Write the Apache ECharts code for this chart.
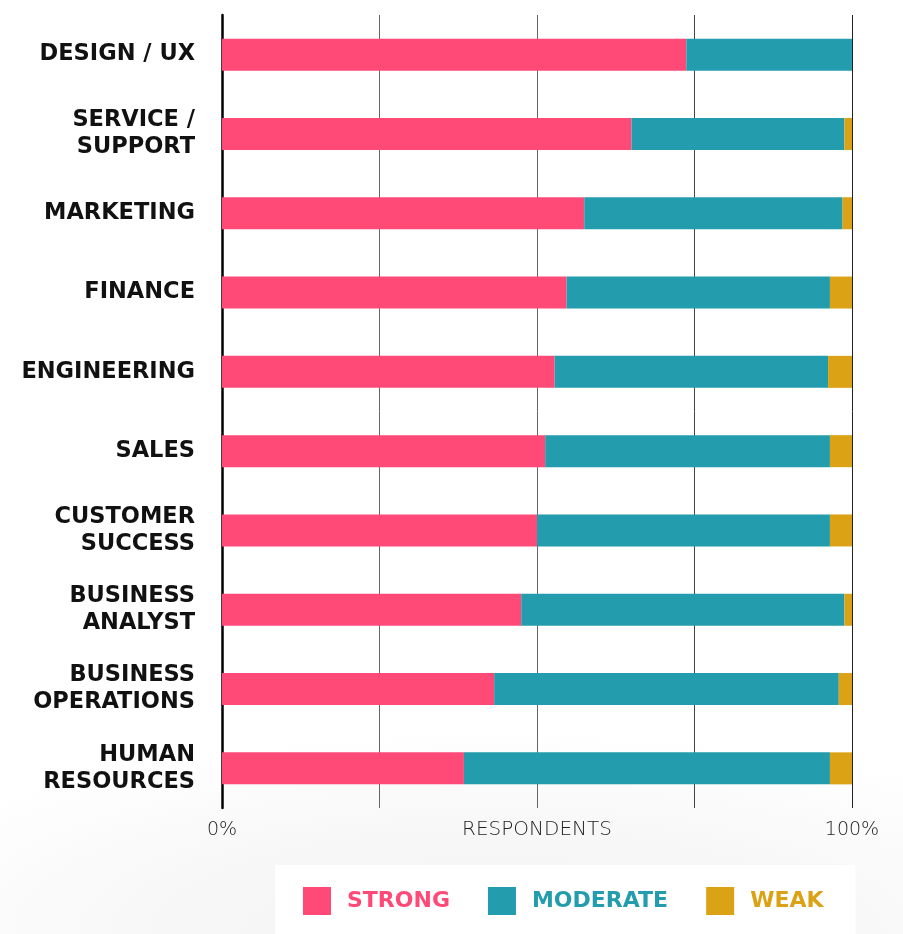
<!DOCTYPE html>
<html>
<head>
<meta charset="utf-8">
<script src="https://cdn.jsdelivr.net/npm/echarts@6/dist/echarts.min.js"></script>
<style>
  html, body { margin: 0; padding: 0; }
  body {
    width: 903px; height: 934px; overflow: hidden;
    background: radial-gradient(ellipse 75% 22% at 55% 100%, #f2f2f2 0%, #f8f8f8 55%, #ffffff 100%);
  }
  #chart { width: 903px; height: 934px; }
</style>
</head>
<body>
<div id="chart"></div>
<script>
// Departments, top to bottom
const categories = [
  'DESIGN / UX',
  'SERVICE /\nSUPPORT',
  'MARKETING',
  'FINANCE',
  'ENGINEERING',
  'SALES',
  'CUSTOMER\nSUCCESS',
  'BUSINESS\nANALYST',
  'BUSINESS\nOPERATIONS',
  'HUMAN\nRESOURCES'
];

// Share of respondents (%) per rating
const strong   = [73.7, 65.0, 57.5, 54.7, 52.8, 51.3, 50.0, 47.5, 43.2, 38.4];
const moderate = [26.3, 33.8, 41.0, 41.8, 43.4, 45.2, 46.5, 51.3, 54.7, 58.1];
const weak     = [ 0.0,  1.2,  1.5,  3.5,  3.8,  3.5,  3.5,  1.2,  2.1,  3.5];

const seriesNames = ['STRONG', 'MODERATE', 'WEAK'];
const colors = ['#FF4A78', '#239DAD', '#DBA215'];

const boldFont = "'DejaVu Sans', sans-serif";
const thinFont = "'DejaVu Sans', sans-serif";

const chart = echarts.init(document.getElementById('chart'), null, { renderer: 'canvas' });

const makeSeries = (name, data, color) => ({
  name,
  type: 'bar',
  stack: 'total',
  data,
  barWidth: 32,
  itemStyle: { color },
  emphasis: { disabled: true }
});

chart.setOption({
  animation: false,
  grid: { left: 222, right: 51, top: 15, bottom: 126, containLabel: false },
  xAxis: {
    type: 'value',
    min: 0,
    max: 100,
    interval: 25,
    name: 'RESPONDENTS',
    nameLocation: 'middle',
    nameGap: 12,
    nameMoveOverlap: false,
    nameTextStyle: {
      fontFamily: thinFont, fontWeight: 200, fontSize: 20, color: '#222',
      verticalAlign: 'top'
    },
    axisLine: { show: false },
    axisTick: { show: false },
    axisLabel: {
      margin: 13,
      fontFamily: thinFont, fontWeight: 200, fontSize: 19, color: '#222',
      verticalAlign: 'top',
      formatter: v => (v === 0 ? '0%' : v === 100 ? '100%' : '')
    },
    splitLine: {
      show: true,
      lineStyle: { color: ['#ffffff', '#666', '#666', '#444', '#222'], width: 1 }
    }
  },
  yAxis: {
    type: 'category',
    inverse: true,
    data: categories,
    axisTick: { show: false },
    axisLine: { show: true, lineStyle: { color: '#000', width: 2.5 } },
    axisLabel: {
      margin: 27,
      fontFamily: boldFont,
      fontWeight: 'bold',
      fontSize: 22.5,
      lineHeight: 27,
      padding: [8, 0, 0, 0],
      color: '#111',
      align: 'right'
    }
  },
  legend: {
    left: 275,
    top: 865,
    orient: 'horizontal',
    backgroundColor: '#ffffff',
    padding: [22, 32, 30, 28],
    itemWidth: 28,
    itemHeight: 28,
    itemGap: 38,
    icon: 'rect',
    selectedMode: false,
    data: seriesNames.map((n, i) => ({
      name: n,
      textStyle: { color: colors[i] }
    })),
    textStyle: {
      fontFamily: boldFont,
      fontWeight: 'bold',
      fontSize: 22,
      padding: [0, 0, 0, 11]
    }
  },
  series: [
    makeSeries(seriesNames[0], strong, colors[0]),
    makeSeries(seriesNames[1], moderate, colors[1]),
    makeSeries(seriesNames[2], weak, colors[2])
  ]
});
</script>
</body>
</html>
